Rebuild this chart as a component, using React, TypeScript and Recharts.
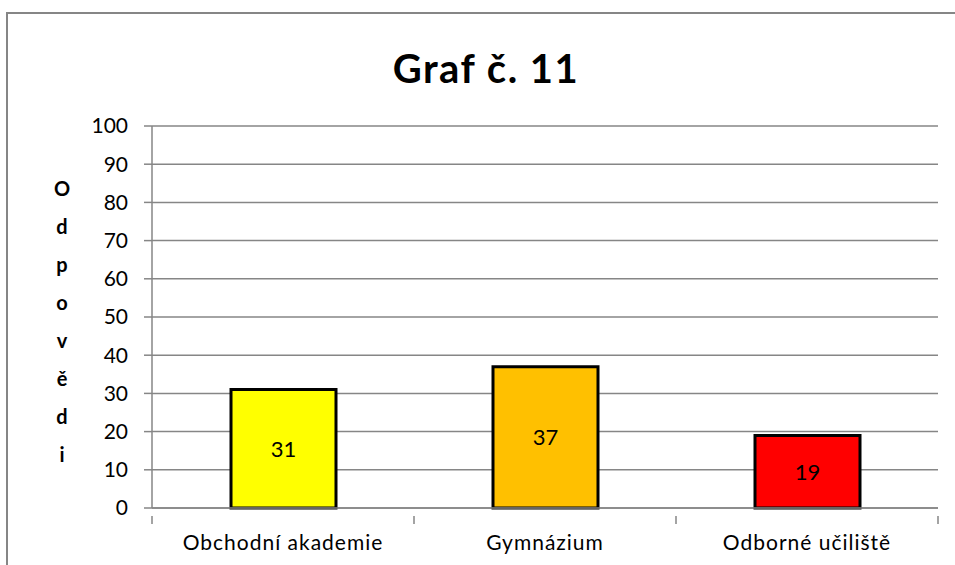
import React from 'react';
import { BarChart, Bar, XAxis, YAxis, CartesianGrid, Cell, LabelList } from 'recharts';

const categories = ['Obchodní akademie', 'Gymnázium', 'Odborné učiliště'];
const answers = [31, 37, 19];
const barColors = ['#FFFF00', '#FFC000', '#FF0000'];
const yTicks = [0, 10, 20, 30, 40, 50, 60, 70, 80, 90, 100];
const yTitle = 'Odpovědi';

const data = categories.map((name, i) => ({ name, value: answers[i] }));

const FONT = 'Lato, "Open Sans", sans-serif';
const GRID = '#868686';

// category label plus tick marks on the category boundaries (Excel style)
const CategoryTick = (props: any) => {
  const { x, y, payload, index } = props;
  const half = payload.offset || 0;
  return (
    <g>
      <line x1={x - half} y1={y} x2={x - half} y2={y + 8} stroke={GRID} strokeWidth={1.5} />
      {index === categories.length - 1 && (
        <line x1={x + half} y1={y} x2={x + half} y2={y + 8} stroke={GRID} strokeWidth={1.5} />
      )}
      <text
        x={x}
        y={y + 34}
        textAnchor="middle"
        fontSize={21}
        letterSpacing={1}
        fill="#000"
        fontFamily={FONT}
      >
        {payload.value}
      </text>
    </g>
  );
};

const StackedLabel = () => (
  <text x={62} textAnchor="middle" fontSize={20} fontWeight="bold" fill="#000" fontFamily={FONT}>
    {yTitle.split('').map((ch, i) => (
      <tspan key={i} x={62} y={196 + i * 38}>
        {ch}
      </tspan>
    ))}
  </text>
);

export default function App() {
  return (
    <div style={{ position: 'absolute', left: 0, top: 0, width: 955, height: 565, background: '#fff', overflow: 'hidden' }}>
      <div
        style={{
          position: 'absolute',
          left: 6,
          top: 12,
          width: 1000,
          height: 600,
          borderLeft: `2px solid ${GRID}`,
          borderTop: `2px solid ${GRID}`,
        }}
      />
      <div
        style={{
          position: 'absolute',
          left: 286,
          top: 44,
          width: 400,
          textAlign: 'center',
          fontFamily: FONT,
          fontWeight: 'bold',
          fontSize: 40,
          letterSpacing: 1.5,
          color: '#000',
        }}
      >
        Graf č. 11
      </div>
      <BarChart
        width={955}
        height={565}
        data={data}
        margin={{ top: 126, right: 17, bottom: 27, left: 92 }}
        barSize={105}
        style={{ position: 'absolute', left: 0, top: 0 }}
      >
        <CartesianGrid vertical={false} stroke={GRID} strokeWidth={1.5} />
        <XAxis
          dataKey="name"
          height={30}
          axisLine={{ stroke: GRID, strokeWidth: 1.5 }}
          tickLine={false}
          tick={<CategoryTick />}
          interval={0}
        />
        <YAxis
          width={60}
          domain={[0, 100]}
          ticks={yTicks}
          interval={0}
          axisLine={{ stroke: GRID, strokeWidth: 1.5 }}
          tickLine={{ stroke: GRID, strokeWidth: 1.5 }}
          tickSize={8}
          tickMargin={16}
          tick={{ fontSize: 21, fill: '#000', fontFamily: FONT }}
          label={{ content: <StackedLabel /> }}
        />
        <Bar dataKey="value" stroke="#000" strokeWidth={3} isAnimationActive={false}>
          {data.map((d, i) => (
            <Cell key={d.name} fill={barColors[i]} />
          ))}
          <LabelList dataKey="value" position="center" fontSize={22} fill="#000" fontFamily={FONT} />
        </Bar>
      </BarChart>
    </div>
  );
}
